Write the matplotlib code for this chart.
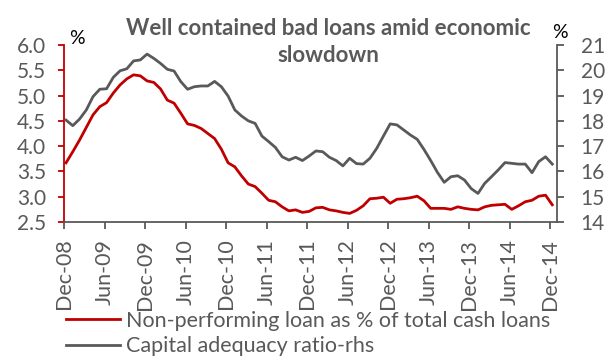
import numpy as np
import matplotlib
matplotlib.use('Agg')
import matplotlib.pyplot as plt

# monthly data, Dec-08 .. Dec-14
npl = [3.67, 3.89, 4.12, 4.37, 4.62, 4.78, 4.86, 5.05, 5.21, 5.33, 5.41, 5.39, 5.29,
       5.26, 5.13, 4.91, 4.85, 4.65, 4.44, 4.41, 4.35, 4.25, 4.15, 3.94, 3.67,
       3.59, 3.41, 3.25, 3.20, 3.07, 2.93, 2.90, 2.80, 2.72, 2.74, 2.69, 2.71,
       2.78, 2.79, 2.74, 2.72, 2.69, 2.67, 2.73, 2.82, 2.96, 2.97, 2.99, 2.87,
       2.95, 2.96, 2.98, 3.01, 2.92, 2.77, 2.77, 2.77, 2.75, 2.80, 2.77, 2.75,
       2.74, 2.80, 2.83, 2.84, 2.85, 2.75, 2.82, 2.90, 2.93, 3.01, 3.03, 2.84]
car = [18.03, 17.81, 18.07, 18.43, 18.96, 19.25, 19.27, 19.72, 19.98, 20.06, 20.37, 20.41, 20.64,
       20.47, 20.27, 20.04, 19.97, 19.55, 19.25, 19.35, 19.38, 19.38, 19.56, 19.35, 18.98,
       18.43, 18.19, 18.00, 17.90, 17.40, 17.18, 16.95, 16.58, 16.45, 16.56, 16.43, 16.61,
       16.81, 16.78, 16.56, 16.43, 16.22, 16.52, 16.31, 16.29, 16.52, 16.91, 17.40, 17.88,
       17.84, 17.64, 17.44, 17.27, 16.87, 16.43, 15.96, 15.57, 15.79, 15.83, 15.66, 15.32,
       15.13, 15.53, 15.79, 16.06, 16.35, 16.32, 16.29, 16.29, 15.95, 16.39, 16.58, 16.29]
tick_labels = ['Dec-08', 'Jun-09', 'Dec-09', 'Jun-10', 'Dec-10', 'Jun-11', 'Dec-11',
               'Jun-12', 'Dec-12', 'Jun-13', 'Dec-13', 'Jun-14', 'Dec-14']
left_ticks = [2.5, 3.0, 3.5, 4.0, 4.5, 5.0, 5.5, 6.0]
right_ticks = [14, 15, 16, 17, 18, 19, 20, 21]

RED = '#C00000'
GREY = '#595959'

plt.rcParams['font.family'] = ['Lato', 'DejaVu Sans']

fig = plt.figure(figsize=(6.11, 3.56), dpi=100)
ax = fig.add_axes([64/611, 1-222/356, (557-64)/611, (222-45)/356])
ax2 = ax.twinx()

x = np.arange(len(npl)) + 0.3
l1, = ax.plot(x, npl, color=RED, lw=2, label='Non-performing loan as % of total cash loans')
l2, = ax2.plot(x, car, color=GREY, lw=2, label='Capital adequacy ratio-rhs')

ax.set_xlim(0, 73)
ax.set_ylim(2.5, 6.0)
ax2.set_ylim(14, 21)

ax.set_xticks(np.arange(0, 73, 6))
ax.set_xticklabels(tick_labels, rotation=90)
ax.set_yticks(left_ticks)
ax.set_yticklabels(['%.1f' % v for v in left_ticks])
ax2.set_yticks(right_ticks)

for s in ['top', 'right']:
    ax.spines[s].set_visible(False)
for s in ['top', 'left', 'bottom']:
    ax2.spines[s].set_visible(False)
ax.spines['left'].set_color(RED)
ax.spines['left'].set_linewidth(1.3)
ax.spines['bottom'].set_color(GREY)
ax.spines['bottom'].set_linewidth(1.3)
ax2.spines['right'].set_color(GREY)
ax2.spines['right'].set_linewidth(1.3)

ax.tick_params(axis='y', colors=RED, labelcolor=GREY, labelsize=15, length=4, width=1.3, pad=9)
ax.tick_params(axis='x', colors=GREY, labelcolor=GREY, labelsize=15.5, length=5, width=1.3, pad=7)
ax2.tick_params(axis='y', colors=GREY, labelcolor=GREY, labelsize=15, length=5, width=1.3, pad=12)

# titles and units
fig.text(328/611, 1-35/356, 'Well contained bad loans amid economic', ha='center', va='baseline',
         fontsize=16, fontweight='bold', color=GREY)
fig.text(328/611, 1-62/356, 'slowdown', ha='center', va='baseline',
         fontsize=16, fontweight='bold', color=GREY)
fig.text(77/611, 1-38/356, '%', ha='center', va='center', fontsize=14, color='black')
fig.text(560/611, 1-33/356, '%', ha='center', va='center', fontsize=14, color='black')

fig.legend(handles=[l1, l2], loc='upper left', bbox_to_anchor=(66/611, 1-311/356),
           frameon=False, fontsize=15.5, labelcolor=GREY, handlelength=2.5,
           handletextpad=0.3, labelspacing=0.25, borderpad=0, borderaxespad=0)

fig.savefig('out.png', dpi=100)
